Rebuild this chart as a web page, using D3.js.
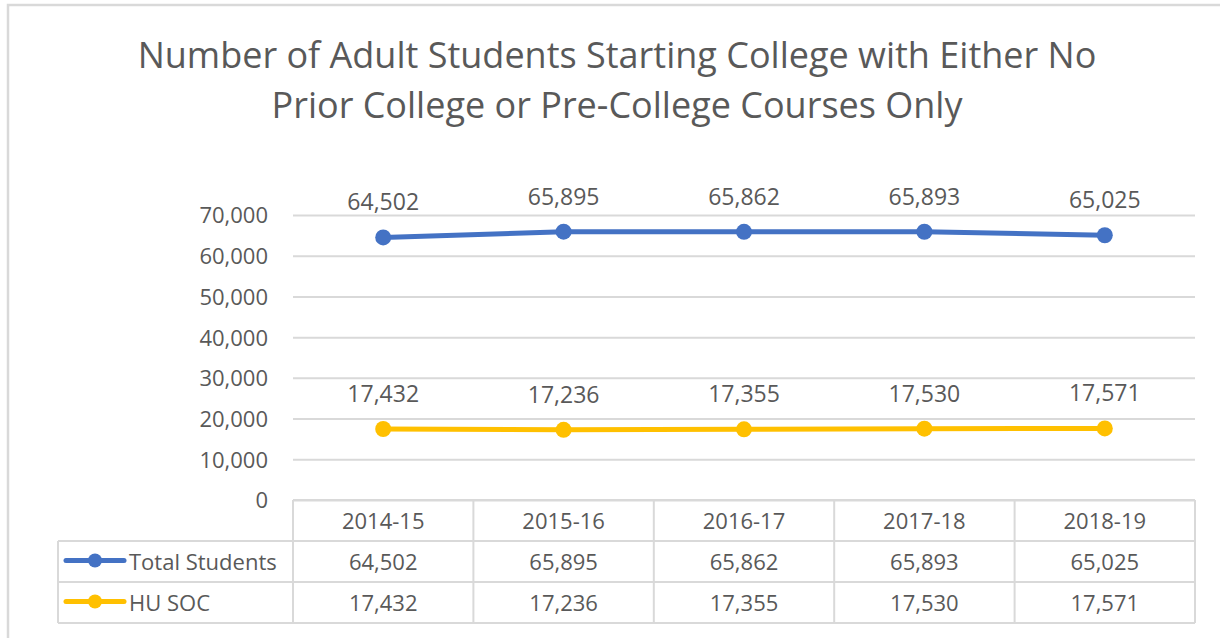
<!DOCTYPE html>
<html>
<head>
<meta charset="utf-8">
<script src="https://d3js.org/d3.v7.min.js"></script>
<style>
  body { margin: 0; background: #fff; }
  text { font-family: "Open Sans", sans-serif; fill: #595959; }
</style>
</head>
<body>
<div id="chart"></div>
<script>
var years = ["2014-15", "2015-16", "2016-17", "2017-18", "2018-19"]
var totalStudents = [64502, 65895, 65862, 65893, 65025]
var huSoc = [17432, 17236, 17355, 17530, 17571]
var seriesNames = ["Total Students", "HU SOC"]
var seriesColors = ["#4472C4", "#FFC000"]
var yTicks = [0, 10000, 20000, 30000, 40000, 50000, 60000, 70000]
var titleLines = ["Number of Adult Students Starting College with Either No",
	"Prior College or Pre-College Courses Only"]

var width = 1220, height = 638
var plotLeft = 293, plotRight = 1195, plotTop = 215, plotBottom = 500
var rowH = 41, legendLeft = 58
var fmt = d3.format(",")

var svg = d3.select("#chart").append("svg")
	.attr("width", width)
	.attr("height", height)

// outer frame
svg.append("rect")
	.attr("x", 8).attr("y", 5)
	.attr("width", width).attr("height", height)
	.style("fill", "none")
	.style("stroke", "#d9d9d9")
	.style("stroke-width", 2.5)

// title
svg.selectAll(".title")
	.data(titleLines)
	.enter()
	.append("text")
	.attr("class", "title")
	.attr("x", 617)
	.attr("y", function(d, i){ return 68 + i * 50 })
	.attr("text-anchor", "middle")
	.style("font-size", "36px")
	.text(function(d){ return d })

var x = d3.scaleBand().domain(years).range([plotLeft, plotRight])
var y = d3.scaleLinear().domain([0, 70000]).range([plotBottom, plotTop])

// gridlines + y labels
var yAxis = svg.append("g")
	.attr("transform", "translate(" + plotLeft + ",0)")
	.call(d3.axisLeft(y).tickValues(yTicks).tickFormat(fmt).tickSize(-(plotRight - plotLeft)).tickPadding(25))
yAxis.select(".domain").remove()
yAxis.selectAll("line").style("stroke", "#d9d9d9").style("stroke-width", 2)
yAxis.selectAll("text")
	.style("font-size", "22px")
	.style("font-family", "'Open Sans', sans-serif")
	.attr("fill", "#595959")
	.attr("dy", "0.36em")

var series = [totalStudents, huSoc]

var line = d3.line()
	.x(function(d, i){ return x(years[i]) + x.bandwidth() / 2 })
	.y(function(d){ return y(d) })

series.forEach(function(vals, s){
	svg.append("path")
		.datum(vals)
		.attr("d", line)
		.style("fill", "none")
		.style("stroke", seriesColors[s])
		.style("stroke-width", 5)
		.style("stroke-linecap", "round")

	svg.selectAll(".pt" + s)
		.data(vals)
		.enter()
		.append("circle")
		.attr("cx", function(d, i){ return x(years[i]) + x.bandwidth() / 2 })
		.attr("cy", function(d){ return y(d) })
		.attr("r", 8)
		.style("fill", seriesColors[s])

	svg.selectAll(".lbl" + s)
		.data(vals)
		.enter()
		.append("text")
		.attr("x", function(d, i){ return x(years[i]) + x.bandwidth() / 2 })
		.attr("y", function(d){ return y(d) - 27 })
		.attr("text-anchor", "middle")
		.style("font-size", "23px")
		.text(function(d){ return fmt(d) })
})

// data table
var tbl = svg.append("g").style("stroke", "#d9d9d9").style("stroke-width", 2).style("fill", "none")
tbl.append("line").attr("x1", plotLeft).attr("x2", plotRight).attr("y1", plotBottom).attr("y2", plotBottom)
for (var r = 1; r <= 3; r++) {
	tbl.append("line").attr("x1", legendLeft).attr("x2", plotRight)
		.attr("y1", plotBottom + r * rowH).attr("y2", plotBottom + r * rowH)
}
tbl.append("line").attr("x1", legendLeft).attr("x2", legendLeft)
	.attr("y1", plotBottom + rowH).attr("y2", plotBottom + 3 * rowH)
years.forEach(function(yr){
	tbl.append("line").attr("x1", x(yr)).attr("x2", x(yr))
		.attr("y1", plotBottom).attr("y2", plotBottom + 3 * rowH)
})
tbl.append("line").attr("x1", plotRight).attr("x2", plotRight)
	.attr("y1", plotBottom).attr("y2", plotBottom + 3 * rowH)

svg.selectAll(".hdr")
	.data(years)
	.enter()
	.append("text")
	.attr("x", function(d){ return x(d) + x.bandwidth() / 2 })
	.attr("y", plotBottom + 29)
	.attr("text-anchor", "middle")
	.style("font-size", "22px")
	.text(function(d){ return d })

series.forEach(function(vals, s){
	var rowY = plotBottom + (s + 1) * rowH
	svg.selectAll(".cell" + s)
		.data(vals)
		.enter()
		.append("text")
		.attr("x", function(d, i){ return x(years[i]) + x.bandwidth() / 2 })
		.attr("y", rowY + 29)
		.attr("text-anchor", "middle")
		.style("font-size", "22px")
		.text(function(d){ return fmt(d) })

	// legend key
	var cy = rowY + rowH / 2 - 1
	svg.append("line")
		.attr("x1", 66).attr("x2", 124)
		.attr("y1", cy).attr("y2", cy)
		.style("stroke", seriesColors[s])
		.style("stroke-width", 5)
		.style("stroke-linecap", "round")
	svg.append("circle")
		.attr("cx", 95).attr("cy", cy).attr("r", 7)
		.style("fill", seriesColors[s])
	svg.append("text")
		.attr("x", 129)
		.attr("y", rowY + 29)
		.style("font-size", "22px")
		.text(seriesNames[s])
})
</script>
</body>
</html>
